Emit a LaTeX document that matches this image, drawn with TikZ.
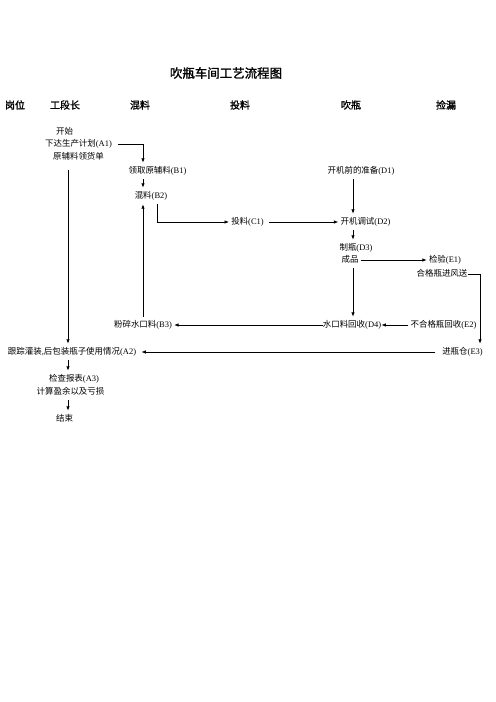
\documentclass[tikz,border=0pt]{standalone}
\usepackage{fontspec}
\setmainfont{Liberation Serif}
\newfontfamily\cjk{Noto Sans CJK SC}
\newfontfamily\cjkb{Noto Sans CJK SC}[FakeBold=1.5]
\usetikzlibrary{arrows.meta}
\begin{document}
\begin{tikzpicture}[x=1bp,y=-1bp,
  lbl/.style={font=\fontsize{8.5}{10}\selectfont, inner xsep=2bp, inner ysep=4bp, text height=6.5bp, text depth=1.5bp},
  hdr/.style={font=\fontsize{10}{12}\selectfont\cjkb, inner sep=0},
  ttl/.style={font=\fontsize{12.5}{14}\selectfont\cjkb, inner sep=0},
  arr/.style={line width=0.8bp, -{Latex[length=4.5bp,width=3.5bp]}},
  ln/.style={line width=0.8bp}]
\useasboundingbox (0,0) rectangle (496,702);
% title and headers
\node[ttl] (title) at (226,73) {吹瓶车间工艺流程图};
\node[hdr] (h1) at (15,105) {岗位};
\node[hdr] (h2) at (65,105) {工段长};
\node[hdr] (h3) at (140,105) {混料};
\node[hdr] (h4) at (240,105) {投料};
\node[hdr] (h5) at (351,105) {吹瓶};
\node[hdr] (h6) at (446,105) {捡漏};
% column reference coordinates
\coordinate (xA) at (68,0);
\coordinate (xB) at (143,0);
\coordinate (xC) at (157,0);
\coordinate (xD) at (353,0);
\coordinate (xE) at (480,0);
% nodes
\node[lbl] (ks) at (64.5,132) {\cjk 开始};
\node[lbl] (a1) at (78.5,144) {{\cjk 下达生产计划}(A1)};
\node[lbl] (yl) at (78.5,157) {\cjk 原辅料领货单};
\node[lbl] (b1) at (157.5,171) {{\cjk 领取原辅料}(B1)};
\node[lbl] (b2) at (151,196) {{\cjk 混料}(B2)};
\node[lbl] (c1) at (247.5,222) {{\cjk 投料}(C1)};
\node[lbl] (d1) at (361,171) {{\cjk 开机前的准备}(D1)};
\node[lbl] (d2) at (365.5,222) {{\cjk 开机调试}(D2)};
\node[lbl] (d3) at (356,248) {{\cjk 制瓶}(D3)};
\node[lbl] (cp) at (350,260) {\cjk 成品};
\node[lbl] (e1) at (445,260) {{\cjk 检验}(E1)};
\node[lbl, inner xsep=0] (hg) at (442,274) {\cjk 合格瓶进风送};
\node[lbl, inner xsep=0] (d4) at (352,325) {{\cjk 水口料回收}(D4)};
\node[lbl] (e2) at (443.5,325) {{\cjk 不合格瓶回收}(E2)};
\node[lbl] (e3) at (462.5,352) {{\cjk 进瓶仓}(E3)};
\node[lbl] (b3) at (143,325) {{\cjk 粉碎水口料}(B3)};
\node[lbl] (a2) at (72,352) {{\cjk 跟踪灌装},{\cjk 后包装瓶子使用情况}(A2)};
\node[lbl] (a3) at (74,379) {{\cjk 检查报表}(A3)};
\node[lbl] (js) at (70.5,392) {\cjk 计算盈余以及亏损};
\node[lbl] (jsu) at (64.5,419) {\cjk 结束};
% connectors
\draw[arr] ([xshift=4bp]a1.east) -| (b1.north -| xB);
\draw[arr] (b1.south -| xB) -- (b2.north -| xB);
\draw[arr] (b3.north -| xB) -- (b2.south -| xB);
\draw[arr] (b2.south -| xC) |- (c1.west);
\draw[arr] ([xshift=3bp]c1.east) -- (d2.west);
\draw[arr] (d1.south -| xD) -- (d2.north -| xD);
\draw[arr] (d2.south -| xD) -- (d3.north -| xD);
\draw[arr] (cp.east) -- (e1.west);
\draw[arr] (cp.south -| xD) -- (d4.north -| xD);
\draw[arr] (hg.east) -| (e3.north -| xE);
\draw[arr] (e2.west) -- (d4.east);
\draw[arr] (d4.west) -- (b3.east);
\draw[arr] ([xshift=-5bp]e3.west) -- ([xshift=3bp]a2.east);
\draw[arr] ([yshift=-5bp]yl.south -| xA) -- (a2.north -| xA);
\draw[arr] (a2.south -| xA) -- (a3.north -| xA);
\draw[arr] (js.south -| xA) -- (jsu.north -| xA);
\end{tikzpicture}
\end{document}
